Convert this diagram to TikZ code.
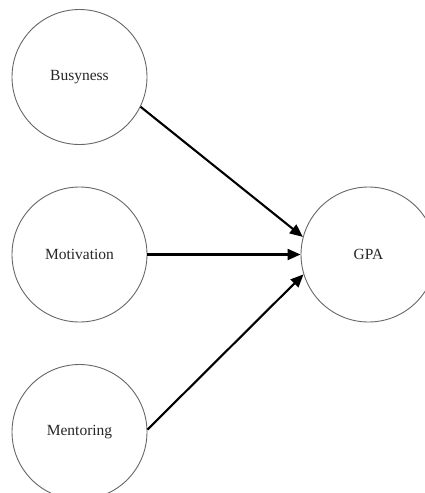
\documentclass[tikz,border=0pt]{standalone}
\usepackage{fontspec}
\setmainfont{Liberation Serif}
\usetikzlibrary{arrows.meta}
\newcommand\vlbl[1]{\raisebox{-3pt}{#1}}
\begin{document}
\begin{tikzpicture}[x=1pt,y=-1pt,
  var/.style={circle,draw=black!60,line width=0.9pt,minimum size=135pt,inner sep=0pt,
    font=\fontsize{15.5}{18}\selectfont,text=black!85},
  path/.style={line width=2.1pt,-{Triangle[length=13pt,width=11pt]}}]
\useasboundingbox (0,0) rectangle (425,493);
\node[var] (bus) at (79.5,77) {\vlbl{Busyness}};
\node[var] (mot) at (79.5,254.5) {\vlbl{Motivation}};
\node[var] (men) at (79.5,432) {\vlbl{Mentoring}};
\node[var] (gpa) at (368.5,254.5) {\vlbl{GPA}};
\draw[path] (bus.-26) -- (gpa.165.7);
\draw[path] (mot.east) -- (gpa.west);
\draw[path] (men.2) -- (gpa.197.6);
\end{tikzpicture}
\end{document}
